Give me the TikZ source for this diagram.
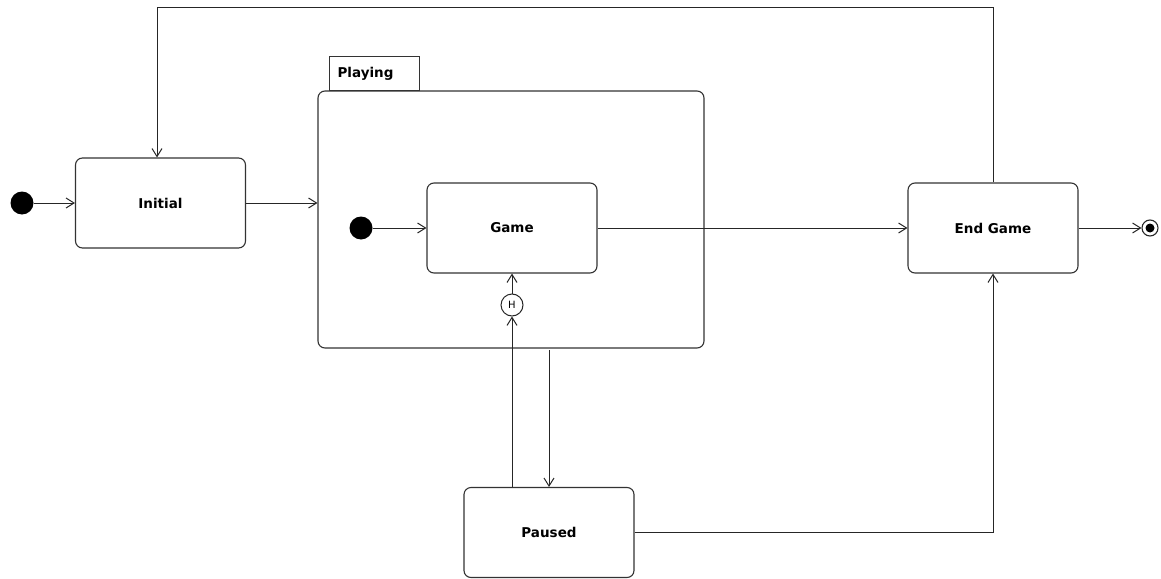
\documentclass[tikz,border=0pt]{standalone}
\usepackage{fontspec}
\setmainfont{DejaVu Sans}
\usetikzlibrary{arrows.meta}
\begin{document}
\begin{tikzpicture}[x=1pt,y=-1pt,
  state/.style={draw=black!80, line width=1.1pt, rounded corners=7pt, minimum width=170pt, minimum height=90pt, inner sep=0pt, font=\bfseries\fontsize{13.5}{16}\selectfont},
  conn/.style={draw=black!85, line width=1pt, -{Straight Barb[length=8pt,width=10pt]}},
  startdot/.style={circle, fill=black, minimum size=23pt, inner sep=0pt},
]
\useasboundingbox (0,0) rectangle (1161,578);
% composite state
\node[draw=black!80, line width=1.1pt, rounded corners=7pt, minimum width=386pt, minimum height=257pt, inner sep=0pt] (Playing) at (511,219.5) {};
\node[draw=black!80, line width=1.1pt, minimum width=90pt, minimum height=34pt, text width=74pt, inner xsep=8pt, inner ysep=0pt, align=left, anchor=south west, font=\bfseries\fontsize{13.5}{16}\selectfont] (tab) at (329,91) {Playing};
% states
\node[state] (Initial) at (160.5,203) {Initial};
\node[state] (Game) at (512,228) {Game};
\node[state] (EndGame) at (993,228) {End Game};
\node[state] (Paused) at (549,532.5) {Paused};
% pseudo states
\node[startdot] (start1) at (22,203) {};
\node[startdot] (start2) at (361,228) {};
\node[circle, draw=black!85, line width=1pt, minimum size=22pt, inner sep=0pt, font=\fontsize{10}{11}\selectfont] (hist) at (512,305) {H};
\node[circle, draw=black!85, line width=1.1pt, minimum size=16pt, inner sep=0pt] (final) at (1150,228) {};
\node[circle, fill=black, minimum size=9pt, inner sep=0pt] (finaldot) at (final) {};
\coordinate (topL) at (157,8);
\coordinate (pp) at (549,350);
% connectors
\draw[conn] (start1) -- (Initial.west);
\draw[conn] (Initial.east) -- (Initial.east -| Playing.west);
\draw[conn] (start2) -- (Game.west);
\draw[conn] (Game.east) -- (EndGame.west);
\draw[conn] (EndGame.east) -- (final.west);
\draw[conn] (EndGame.north) |- (topL) -- (topL |- Initial.north);
\draw[conn] (hist.north) -- (Game.south);
\draw[conn] (Paused.north -| hist) -- (hist.south);
\draw[conn] (pp) -- (Paused.north);
\draw[conn] (Paused.east) -| (EndGame.south);
\end{tikzpicture}
\end{document}
